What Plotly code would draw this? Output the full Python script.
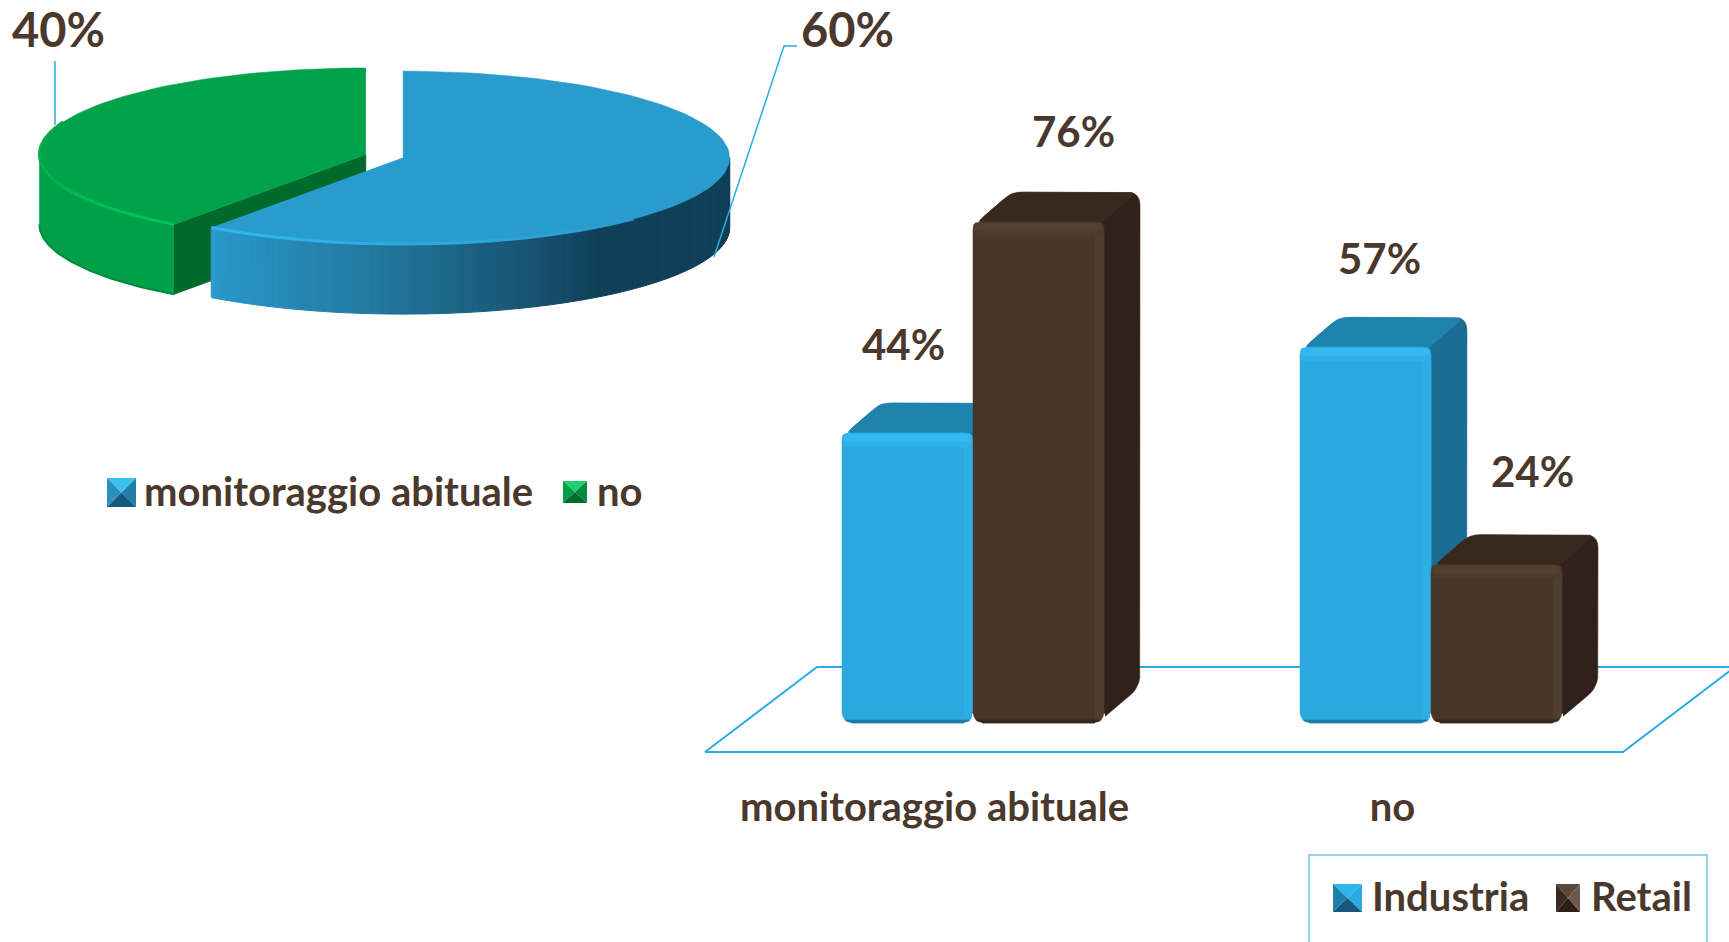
import math
import plotly.graph_objects as go

# ---------- data ----------
pie_labels = ["monitoraggio abituale", "no"]
pie_values = [60, 40]
categories = ["monitoraggio abituale", "no"]
industria = [44, 57]
retail = [76, 24]
series_names = ["Industria", "Retail"]

# ---------- style ----------
W, H = 1729, 942
TEXT = "#4A382C"
LINE = "#2CABE2"
FONT = "Lato"
PX_PER_CAT = 458.0
PX_PER_PCT = 6.59
GROUP0_PX, BASE_PX = 973.0, 723.0
BAR_W = 131 / PX_PER_CAT
DX, DY = 36 / PX_PER_CAT, 30 / PX_PER_PCT
PIE_CX, PIE_CY, PIE_A, PIE_B = 384.5, 156.0, 326.5, 86.5
PIE_DEPTH = 70 / PIE_B
EXPLODE = 0.06

fig = go.Figure()
px = lambda v: v / PX_PER_CAT
py = lambda v: v / PX_PER_PCT


def rounded(pts, r=8, n=5):
    out = []
    m = len(pts)
    for i in range(m):
        p, a, b = pts[i], pts[i - 1], pts[(i + 1) % m]
        def toward(q):
            vx, vy = (q[0] - p[0]) * PX_PER_CAT, (q[1] - p[1]) * PX_PER_PCT
            ln = math.hypot(vx, vy) or 1
            k = min(r, ln / 2) / ln
            return (p[0] + (q[0] - p[0]) * k, p[1] + (q[1] - p[1]) * k)
        s, e = toward(a), toward(b)
        for j in range(n + 1):
            t = j / n
            out.append(((1 - t) ** 2 * s[0] + 2 * t * (1 - t) * p[0] + t * t * e[0],
                        (1 - t) ** 2 * s[1] + 2 * t * (1 - t) * p[1] + t * t * e[1]))
    out.append(out[0])
    return out


def poly(pts, color, xa, ya, line=None):
    fig.add_trace(go.Scatter(x=[p[0] for p in pts], y=[p[1] for p in pts], mode="lines",
                             fill="toself", fillcolor=color,
                             line=dict(color=line or color, width=1 if line else 0.5),
                             xaxis=xa, yaxis=ya, showlegend=False, hoverinfo="skip"))


def path(pts, color, width, xa, ya):
    fig.add_trace(go.Scatter(x=[p[0] for p in pts], y=[p[1] for p in pts], mode="lines",
                             line=dict(color=color, width=width), xaxis=xa, yaxis=ya,
                             showlegend=False, hoverinfo="skip"))


# ---------- floor ----------
fl, fr = px(705 - GROUP0_PX), px(1623 - GROUP0_PX)
fy, by = py(-29), py(56)
path([(fl, fy), (fr, fy), (fr + px(112), by), (fl + px(112), by), (fl, fy)], LINE, 2, "x", "y")
fig.add_trace(go.Scatter(x=[0], y=[0], mode="markers", marker=dict(opacity=0), xaxis="x", yaxis="y",
                         showlegend=False, hoverinfo="skip"))

# ---------- bars ----------
series = [
    dict(name=series_names[0], vals=industria, off=-BAR_W / 2, xa="x2", ya="y2", front="#2BA9DF", top="#2083AD",
         side="#1A6C93", hi="#33B8F1", mid="#2FB0E8", low="#1C7BA5", edge="#2DAEE5"),
    dict(name=series_names[1], vals=retail, off=BAR_W / 2, xa="x3", ya="y3", front="#48362A", top="#38291F",
         side="#30221A", hi="#53402F", mid="#4D3A2C", low="#36271D", edge="#4F3D30"),
]
for s in series:
    xs = [i + s["off"] for i in range(len(s["vals"]))]
    fig.add_trace(go.Bar(x=xs, y=s["vals"], width=BAR_W, name=s["name"],
                         marker=dict(color=s["front"], cornerradius=10, line_width=0),
                         xaxis=s["xa"], yaxis=s["ya"], showlegend=False,
                         hovertemplate="%{y}%<extra>" + s["name"] + "</extra>"))
    for x, v in zip(xs, s["vals"]):
        L, R = x - BAR_W / 2, x + BAR_W / 2
        # silhouette of side + top in side colour, then top face
        poly(rounded([(L + px(3), v - py(1)), (L + DX + px(3), v + DY), (R + DX, v + DY),
                      (R + DX, DY + py(6)), (R - px(8), py(-1)), (R - px(8), v - py(6))], 13, 6), s["side"], s["xa"], s["ya"])
        poly(rounded([(L + px(3), v - py(1)), (L + DX + px(3), v + DY), (R + DX - px(3), v + DY),
                      (R - px(3), v - py(2))], 8, 6), s["top"], s["xa"], s["ya"])
        # front bevels, redrawn over the silhouette
        poly(rounded([(L, 0), (L, v), (R, v), (R, 0)], 10, 6), s["front"], s["xa"], s["ya"])
        poly([(R - px(9), v - py(8)), (R, v - py(10)), (R, py(5)), (R - px(9), py(5))], s["edge"], s["xa"], s["ya"])
        poly(rounded([(L, v - py(3)), (L + px(3), v), (R - px(3), v), (R, v - py(3)), (R, v - py(14)), (L, v - py(14))], 6), s["mid"], s["xa"], s["ya"])
        poly(rounded([(L + px(2), v - py(1)), (R - px(2), v - py(1)), (R - px(2), v - py(9)), (L + px(2), v - py(9))], 6), s["hi"], s["xa"], s["ya"])
        poly([(L, py(3)), (R, py(3)), (R, 0), (L, 0)], s["low"], s["xa"], s["ya"])
        # rounded foot corners
        for cx, sx in ((L, 1), (R, -1)):
            c = [(cx - sx * px(1), py(-1)), (cx + sx * px(9), py(-1))]
            for j in range(7):
                t = j / 6 * math.pi / 2
                c.append((cx + sx * px(9) * (1 - math.sin(t)), py(9) * (1 - math.cos(t))))
            c.append((cx - sx * px(1), py(9)))
            poly(c, "#FFFFFF", s["xa"], s["ya"])

# ---------- pie ----------
def pt(theta, ox, oy, drop=0.0):
    t = math.radians(theta)
    return (ox + math.sin(t), oy + math.cos(t) - drop)


def arc(a, b, ox, oy, drop=0.0, n=80):
    return [pt(a + (b - a) * i / n, ox, oy, drop) for i in range(n + 1)]


def mix(c1, c2, k):
    return "rgb(%d,%d,%d)" % tuple(c1[i] + (c2[i] - c1[i]) * k for i in range(3))


total = sum(pie_values)
blue_end = pie_values[0] / total * 360
bm, gm = math.radians(blue_end / 2), math.radians((blue_end + 360) / 2)
bx, by_ = EXPLODE * math.sin(bm), EXPLODE * math.cos(bm)
gx, gy = EXPLODE * math.sin(gm), EXPLODE * math.cos(gm)

# green slice
poly(arc(blue_end, 270, gx, gy) + arc(270, blue_end, gx, gy, PIE_DEPTH), "#00A049", "x4", "y4")
path(arc(blue_end, 270, gx, gy, PIE_DEPTH), "#008A3E", 2, "x4", "y4")
c0 = pt(blue_end, gx, gy)
poly([c0, (gx, gy), (gx, gy - PIE_DEPTH), (c0[0], c0[1] - PIE_DEPTH)], "#006A2D", "x4", "y4")
poly([(gx, gy)] + arc(blue_end, 360, gx, gy), "#00A34A", "x4", "y4")
rim_steps = 14
for i in range(rim_steps):
    a = blue_end + (292 - blue_end) * i / rim_steps
    b = blue_end + (292 - blue_end) * (i + 1) / rim_steps
    path(arc(a, b, gx, gy, n=4), mix((0, 196, 92), (0, 163, 74), i / rim_steps), 3, "x4", "y4")

# blue wall, shaded across its width
stops = [(-0.59, (42, 155, 205)), (-0.53, (40, 149, 197)), (-0.09, (35, 121, 160)), (0.17, (29, 101, 133)),
         (0.44, (23, 79, 110)), (0.61, (16, 63, 88)), (1.0, (16, 63, 88))]


def shade(u):
    for (a, ca), (b, cb) in zip(stops, stops[1:]):
        if u <= b:
            return mix(ca, cb, max(0, (u - a) / (b - a)))
    return "rgb(16,63,88)"


segs = 120
for i in range(segs):
    a = blue_end + (90 - blue_end) * i / segs
    b = blue_end + (90 - blue_end) * (i + 1) / segs
    top_arc = arc(a, b, bx, by_, n=1)
    c = shade(math.sin(math.radians((a + b) / 2)))
    fig.add_trace(go.Scatter(x=[p[0] for p in top_arc] + [p[0] for p in reversed(top_arc)] + [top_arc[0][0]],
                             y=[p[1] for p in top_arc] + [p[1] - PIE_DEPTH for p in reversed(top_arc)] + [top_arc[0][1]],
                             mode="lines", fill="toself", fillcolor=c, line=dict(color=c, width=1),
                             xaxis="x4", yaxis="y4", showlegend=False, hoverinfo="skip"))
poly([(bx, by_)] + arc(0, blue_end, bx, by_), "#2A9BCD", "x4", "y4")
for i in range(rim_steps):
    a = blue_end + (135 - blue_end) * i / rim_steps
    b = blue_end + (135 - blue_end) * (i + 1) / rim_steps
    path(arc(a, b, bx, by_, n=4), mix((47, 184, 240), (42, 155, 205), i / rim_steps), 3, "x4", "y4")
fig.add_trace(go.Scatter(x=[bx], y=[by_], mode="markers", marker=dict(opacity=0), xaxis="x4", yaxis="y4",
                         text=pie_labels, showlegend=False, hoverinfo="skip"))


# ---------- annotations ----------
def T(text, x, y, size, **kw):
    kw.setdefault("xanchor", "center")
    return dict(text=text, x=x, y=y, xref=kw.pop("xref", "paper"), yref=kw.pop("yref", "paper"), showarrow=False,
                yanchor="middle", font=dict(family=FONT, size=size, color=TEXT, weight=700), **kw)


def X(v):
    return v / W


def Y(v):
    return 1 - v / H


ann = []
ann.append(T("%d%%" % pie_values[0], X(847), Y(29), 47))
ann.append(T("%d%%" % pie_values[1], X(58), Y(29), 47))
label_shift = {(0, 0): -4, (0, 1): 14, (1, 0): 35, (1, 1): 36}
label_lift = {(0, 0): 89, (0, 1): 89, (1, 0): 91, (1, 1): 94}
for si, s in enumerate(series):
    for i, v in enumerate(s["vals"]):
        ann.append(T("%d%%" % v, i + s["off"], v, 42, xref=s["xa"], yref=s["ya"],
                     xshift=label_shift[(si, i)], yshift=label_lift[(si, i)]))
ann.append(T(pie_labels[0], X(142), Y(491), 40, xanchor="left"))
ann.append(T(pie_labels[1], X(595), Y(491), 40, xanchor="left"))
ann.append(T(series_names[0], X(1370), Y(896), 40, xanchor="left"))
ann.append(T(series_names[1], X(1589), Y(896), 40, xanchor="left"))


def swatch(x0, y0, x1, y1, top, left, right, bottom):
    cx, cy = (x0 + x1) / 2, (y0 + y1) / 2
    P = lambda a: "%.5f %.5f" % (X(a[0]), Y(a[1]))
    tl, tr, br, bl, c = (x0, y0), (x1, y0), (x1, y1), (x0, y1), (cx, cy)
    out = []
    for tri, col in (((tl, tr, c), top), ((tl, bl, c), left), ((tr, br, c), right), ((bl, br, c), bottom)):
        out.append(dict(type="path", xref="paper", yref="paper", line_width=0, fillcolor=col,
                        path="M " + " L ".join(P(q) for q in tri) + " Z"))
    return out


shapes = []
shapes += swatch(107, 478, 136, 507, "#3BC0F0", "#2B8FBE", "#227DA8", "#17597C")
shapes += swatch(563, 481, 587, 503, "#1FCF6E", "#009E49", "#008A3F", "#006A2D")
shapes += swatch(1333, 884, 1362, 912, "#2FB6EE", "#1E7FAB", "#2BAAE2", "#17597C")
shapes += swatch(1556, 884, 1580, 912, "#5A4738", "#3A2A20", "#6E5A4A", "#2E2018")
shapes.append(dict(type="path", xref="paper", yref="paper", line=dict(color="#6FC5E8", width=1.5),
                   path="M %f %f L %f %f L %f %f L %f %f" % (X(1309), 0, X(1309), Y(855), X(1707), Y(855), X(1707), 0)))
shapes.append(dict(type="path", xref="paper", yref="paper", line=dict(color=LINE, width=1.5),
                   path="M %f %f L %f %f L %f %f" % (X(797), Y(46), X(784), Y(46), X(714), Y(257))))
shapes.append(dict(type="path", xref="paper", yref="paper", line=dict(color=LINE, width=1.5),
                   path="M %f %f L %f %f" % (X(55), Y(61), X(55), Y(125))))

# ---------- axes ----------
bar_x = dict(range=[-GROUP0_PX / PX_PER_CAT, (W - GROUP0_PX) / PX_PER_CAT], domain=[0, 1], visible=False, fixedrange=True)
bar_y = dict(range=[-(H - BASE_PX) / PX_PER_PCT, BASE_PX / PX_PER_PCT], domain=[0, 1], visible=False, fixedrange=True)
TICK_OFF = -0.084
fig.update_layout(
    width=W, height=H, margin=dict(l=0, r=0, t=0, b=0), paper_bgcolor="white", plot_bgcolor="rgba(0,0,0,0)",
    showlegend=False, annotations=ann, shapes=shapes,
    xaxis=dict(range=bar_x["range"], domain=[0, 1], anchor="free", position=(H - BASE_PX) / H, showgrid=False, zeroline=False,
               showline=False, ticks="", tickmode="array", tickvals=[i + TICK_OFF for i in range(len(categories))],
               ticktext=categories, ticklabelstandoff=57, fixedrange=True,
               tickfont=dict(family=FONT, size=40, color=TEXT, weight=700)),
    yaxis=dict(**bar_y),
    xaxis2=dict(**bar_x, overlaying="x"), yaxis2=dict(**bar_y, overlaying="y"),
    xaxis3=dict(**bar_x, overlaying="x"), yaxis3=dict(**bar_y, overlaying="y"),
    xaxis4=dict(range=[-PIE_CX / PIE_A, (W - PIE_CX) / PIE_A], domain=[0, 1], visible=False, overlaying="x", fixedrange=True),
    yaxis4=dict(range=[-(H - PIE_CY) / PIE_B, PIE_CY / PIE_B], domain=[0, 1], visible=False, overlaying="y", fixedrange=True),
)
fig.write_html("out.html", config={"displayModeBar": False},
               post_script="document.body.style.margin='0';document.body.style.overflow='hidden';")
